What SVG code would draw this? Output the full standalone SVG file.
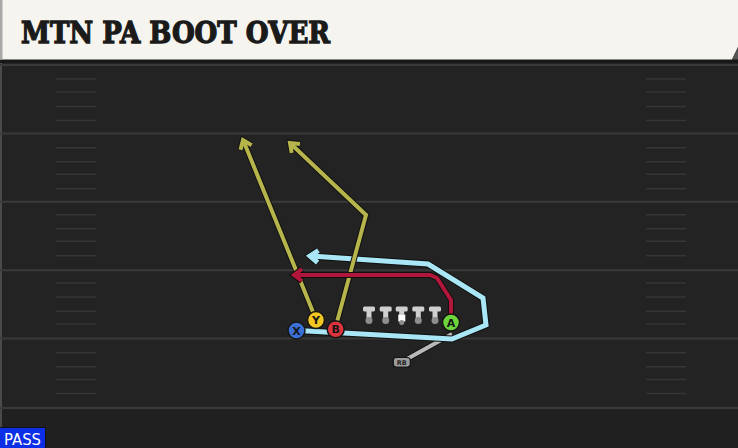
<svg xmlns="http://www.w3.org/2000/svg" width="738" height="448" viewBox="0 0 738 448">
<defs>
<style>
.yl{stroke:#3a3a3a;stroke-width:2}
.hm{stroke:#363636;stroke-width:1.5}
.under{fill:none;stroke:#111;stroke-linejoin:miter;stroke-linecap:butt}
.route{fill:none;stroke-linejoin:miter;stroke-linecap:butt}
.yel{stroke:#b6b54c;stroke-width:4}
.cyan{stroke:#a9e7f6;stroke-width:5}
.red{stroke:#b3163b;stroke-width:4}
.gray{stroke:#b9b9b9;stroke-width:4}
.pc{stroke:#151515;stroke-width:1.5}
.pl{font-family:"DejaVu Sans","Liberation Sans",sans-serif;font-weight:bold;font-size:11px;fill:#151515;text-anchor:middle}
.tbar{fill:#cfcfcf}
.knob{fill:#8e8e8e}
</style>
</defs>
<rect width="738" height="448" fill="#232323"/>
<rect x="0" y="408" width="738" height="40" fill="#202020"/>
<g id="field">
<rect x="0" y="59" width="2" height="370" fill="#4a4a4a"/>
<line class="yl" x1="0" y1="65" x2="738" y2="65"/>
<line class="yl" x1="0" y1="133.4" x2="738" y2="133.4"/>
<line class="yl" x1="0" y1="201.8" x2="738" y2="201.8"/>
<line class="yl" x1="0" y1="270.2" x2="738" y2="270.2"/>
<line class="yl" x1="0" y1="338.6" x2="738" y2="338.6"/>
<line class="yl" x1="0" y1="408" x2="738" y2="408"/>
<g id="hashL">
<line class="hm" x1="56" y1="79" x2="96" y2="79"/><line class="hm" x1="56" y1="92" x2="96" y2="92"/><line class="hm" x1="56" y1="106.5" x2="96" y2="106.5"/><line class="hm" x1="56" y1="120.5" x2="96" y2="120.5"/>
<line class="hm" x1="56" y1="147.7" x2="96" y2="147.7"/><line class="hm" x1="56" y1="161.7" x2="96" y2="161.7"/><line class="hm" x1="56" y1="174.3" x2="96" y2="174.3"/><line class="hm" x1="56" y1="188.7" x2="96" y2="188.7"/>
<line class="hm" x1="56" y1="214.7" x2="96" y2="214.7"/><line class="hm" x1="56" y1="228.7" x2="96" y2="228.7"/><line class="hm" x1="56" y1="241.3" x2="96" y2="241.3"/><line class="hm" x1="56" y1="255.7" x2="96" y2="255.7"/>
<line class="hm" x1="56" y1="283" x2="96" y2="283"/><line class="hm" x1="56" y1="297" x2="96" y2="297"/><line class="hm" x1="56" y1="311.3" x2="96" y2="311.3"/><line class="hm" x1="56" y1="324" x2="96" y2="324"/>
<line class="hm" x1="56" y1="352.7" x2="96" y2="352.7"/><line class="hm" x1="56" y1="366.7" x2="96" y2="366.7"/><line class="hm" x1="56" y1="379.5" x2="96" y2="379.5"/><line class="hm" x1="56" y1="393.5" x2="96" y2="393.5"/>
</g>
<g id="hashR">
<line class="hm" x1="646" y1="79" x2="686" y2="79"/><line class="hm" x1="646" y1="92" x2="686" y2="92"/><line class="hm" x1="646" y1="106.5" x2="686" y2="106.5"/><line class="hm" x1="646" y1="120.5" x2="686" y2="120.5"/>
<line class="hm" x1="646" y1="147.7" x2="686" y2="147.7"/><line class="hm" x1="646" y1="161.7" x2="686" y2="161.7"/><line class="hm" x1="646" y1="174.3" x2="686" y2="174.3"/><line class="hm" x1="646" y1="188.7" x2="686" y2="188.7"/>
<line class="hm" x1="646" y1="214.7" x2="686" y2="214.7"/><line class="hm" x1="646" y1="228.7" x2="686" y2="228.7"/><line class="hm" x1="646" y1="241.3" x2="686" y2="241.3"/><line class="hm" x1="646" y1="255.7" x2="686" y2="255.7"/>
<line class="hm" x1="646" y1="283" x2="686" y2="283"/><line class="hm" x1="646" y1="297" x2="686" y2="297"/><line class="hm" x1="646" y1="311.3" x2="686" y2="311.3"/><line class="hm" x1="646" y1="324" x2="686" y2="324"/>
<line class="hm" x1="646" y1="352.7" x2="686" y2="352.7"/><line class="hm" x1="646" y1="366.7" x2="686" y2="366.7"/><line class="hm" x1="646" y1="379.5" x2="686" y2="379.5"/><line class="hm" x1="646" y1="393.5" x2="686" y2="393.5"/>
</g>
</g>
<g id="title">
<rect x="0" y="59" width="738" height="4" fill="#181818"/>
<path d="M0 0 H738 V47 L732 59.5 H0 Z" fill="#f6f4ee"/>
<path d="M738 47 L732 59.5 H738 Z" fill="#555"/>
<rect x="0" y="0" width="2.5" height="59.5" fill="#a9a9a9"/>
<text x="21" y="43" font-family="'DejaVu Serif','Liberation Serif',serif" font-weight="bold" font-size="29" fill="#1a1a1a" stroke="#1a1a1a" stroke-width="1.3" stroke-linejoin="miter" textLength="309" lengthAdjust="spacingAndGlyphs">MTN PA BOOT OVER</text>
</g>
<g id="connectors">
<g id="route-rb">
<polyline class="under" stroke-width="6" points="407,359 452,334"/>
<polyline class="route gray" points="407,359 452,334"/>
</g>
<g id="route-x">
<polyline class="under" stroke-width="7" points="298,330.5 452,339 486,325 483,298 428,264 311,256"/>
<polyline class="under" stroke-width="7" points="318.4,250.5 310,256 317.6,262.5"/>
<polyline class="route cyan" points="298,330.5 452,339 486,325 483,298 428,264 311,256"/>
<polyline class="route cyan" points="318.4,250.5 310,256 317.6,262.5"/>
</g>
<g id="route-y">
<polyline class="under" stroke-width="6" points="313,312 243.5,141"/>
<polyline class="under" stroke-width="6" points="240.5,149.7 243,140 251.6,145.2"/>
<polyline class="route yel" points="313,312 243.5,141"/>
<polyline class="route yel" points="240.5,149.7 243,140 251.6,145.2"/>
</g>
<g id="route-b">
<polyline class="under" stroke-width="6" points="337,322 366,215 290.5,143.5"/>
<polyline class="under" stroke-width="6" points="291.7,152.9 290,143 299.9,144.1"/>
<polyline class="route yel" points="337,322 366,215 290.5,143.5"/>
<polyline class="route yel" points="291.7,152.9 290,143 299.9,144.1"/>
</g>
<g id="route-a">
<polyline class="under" stroke-width="6" points="451,314 451,300 437,278 430,275 295,275"/>
<polyline class="under" stroke-width="6" points="302,269 294,275 302,281"/>
<polyline class="route red" points="451,314 451,300 437,278 430,275 295,275"/>
<polyline class="route red" points="302,269 294,275 302,281"/>
</g>
</g>
<g id="linemen">
<g id="lt"><rect class="tbar" x="363" y="306.5" width="12" height="5" rx="1.5"/><rect class="tbar" x="366.5" y="311" width="5" height="8"/><circle class="knob" cx="369" cy="320.5" r="3.5"/></g>
<g id="lg"><rect class="tbar" x="379.7" y="306.5" width="12" height="5" rx="1.5"/><rect class="tbar" x="383.2" y="311" width="5" height="8"/><circle class="knob" cx="385.7" cy="320.5" r="3.5"/></g>
<g id="c"><rect class="tbar" x="395.7" y="306.5" width="12" height="5" rx="1.5"/><rect x="398.3" y="314.5" width="7" height="7" fill="#fff"/><rect class="tbar" x="399.2" y="311" width="5" height="4"/><circle class="knob" cx="401.7" cy="322.5" r="2.5"/></g>
<g id="rg"><rect class="tbar" x="412.3" y="306.5" width="12" height="5" rx="1.5"/><rect class="tbar" x="415.8" y="311" width="5" height="8"/><circle class="knob" cx="418.3" cy="320.5" r="3.5"/></g>
<g id="rt"><rect class="tbar" x="429" y="306.5" width="12" height="5" rx="1.5"/><rect class="tbar" x="432.5" y="311" width="5" height="8"/><circle class="knob" cx="435" cy="320.5" r="3.5"/></g>
</g>
<g id="rb"><rect x="393.3" y="357.5" width="17" height="9.5" rx="3" fill="#9c9c9c" stroke="#151515" stroke-width="1.2"/><text x="401.8" y="365" font-family="'DejaVu Sans',sans-serif" font-weight="bold" font-size="6.5" fill="#222" text-anchor="middle">RB</text></g>
<g id="player-x"><circle class="pc" cx="296.5" cy="330.5" r="8.5" fill="#3b6fd6"/><text class="pl" x="296.5" y="334.5">X</text></g>
<g id="player-y"><circle class="pc" cx="316" cy="320" r="8.5" fill="#f3c623"/><text class="pl" x="316" y="324">Y</text></g>
<g id="player-b"><circle class="pc" cx="335.7" cy="329.3" r="8.5" fill="#dc343d"/><text class="pl" x="335.7" y="333.3">B</text></g>
<g id="player-a"><circle class="pc" cx="451" cy="322.5" r="8.5" fill="#6dd43b"/><text class="pl" x="451" y="326.5">A</text></g>
<g id="pass-label"><rect x="-1" y="427.5" width="46.5" height="21" fill="#0b2ee6" stroke="#111" stroke-width="1"/><text x="4" y="444.5" font-family="'DejaVu Sans','Liberation Sans',sans-serif" font-size="15" fill="#fff" textLength="37" lengthAdjust="spacingAndGlyphs">PASS</text></g>
</svg>
